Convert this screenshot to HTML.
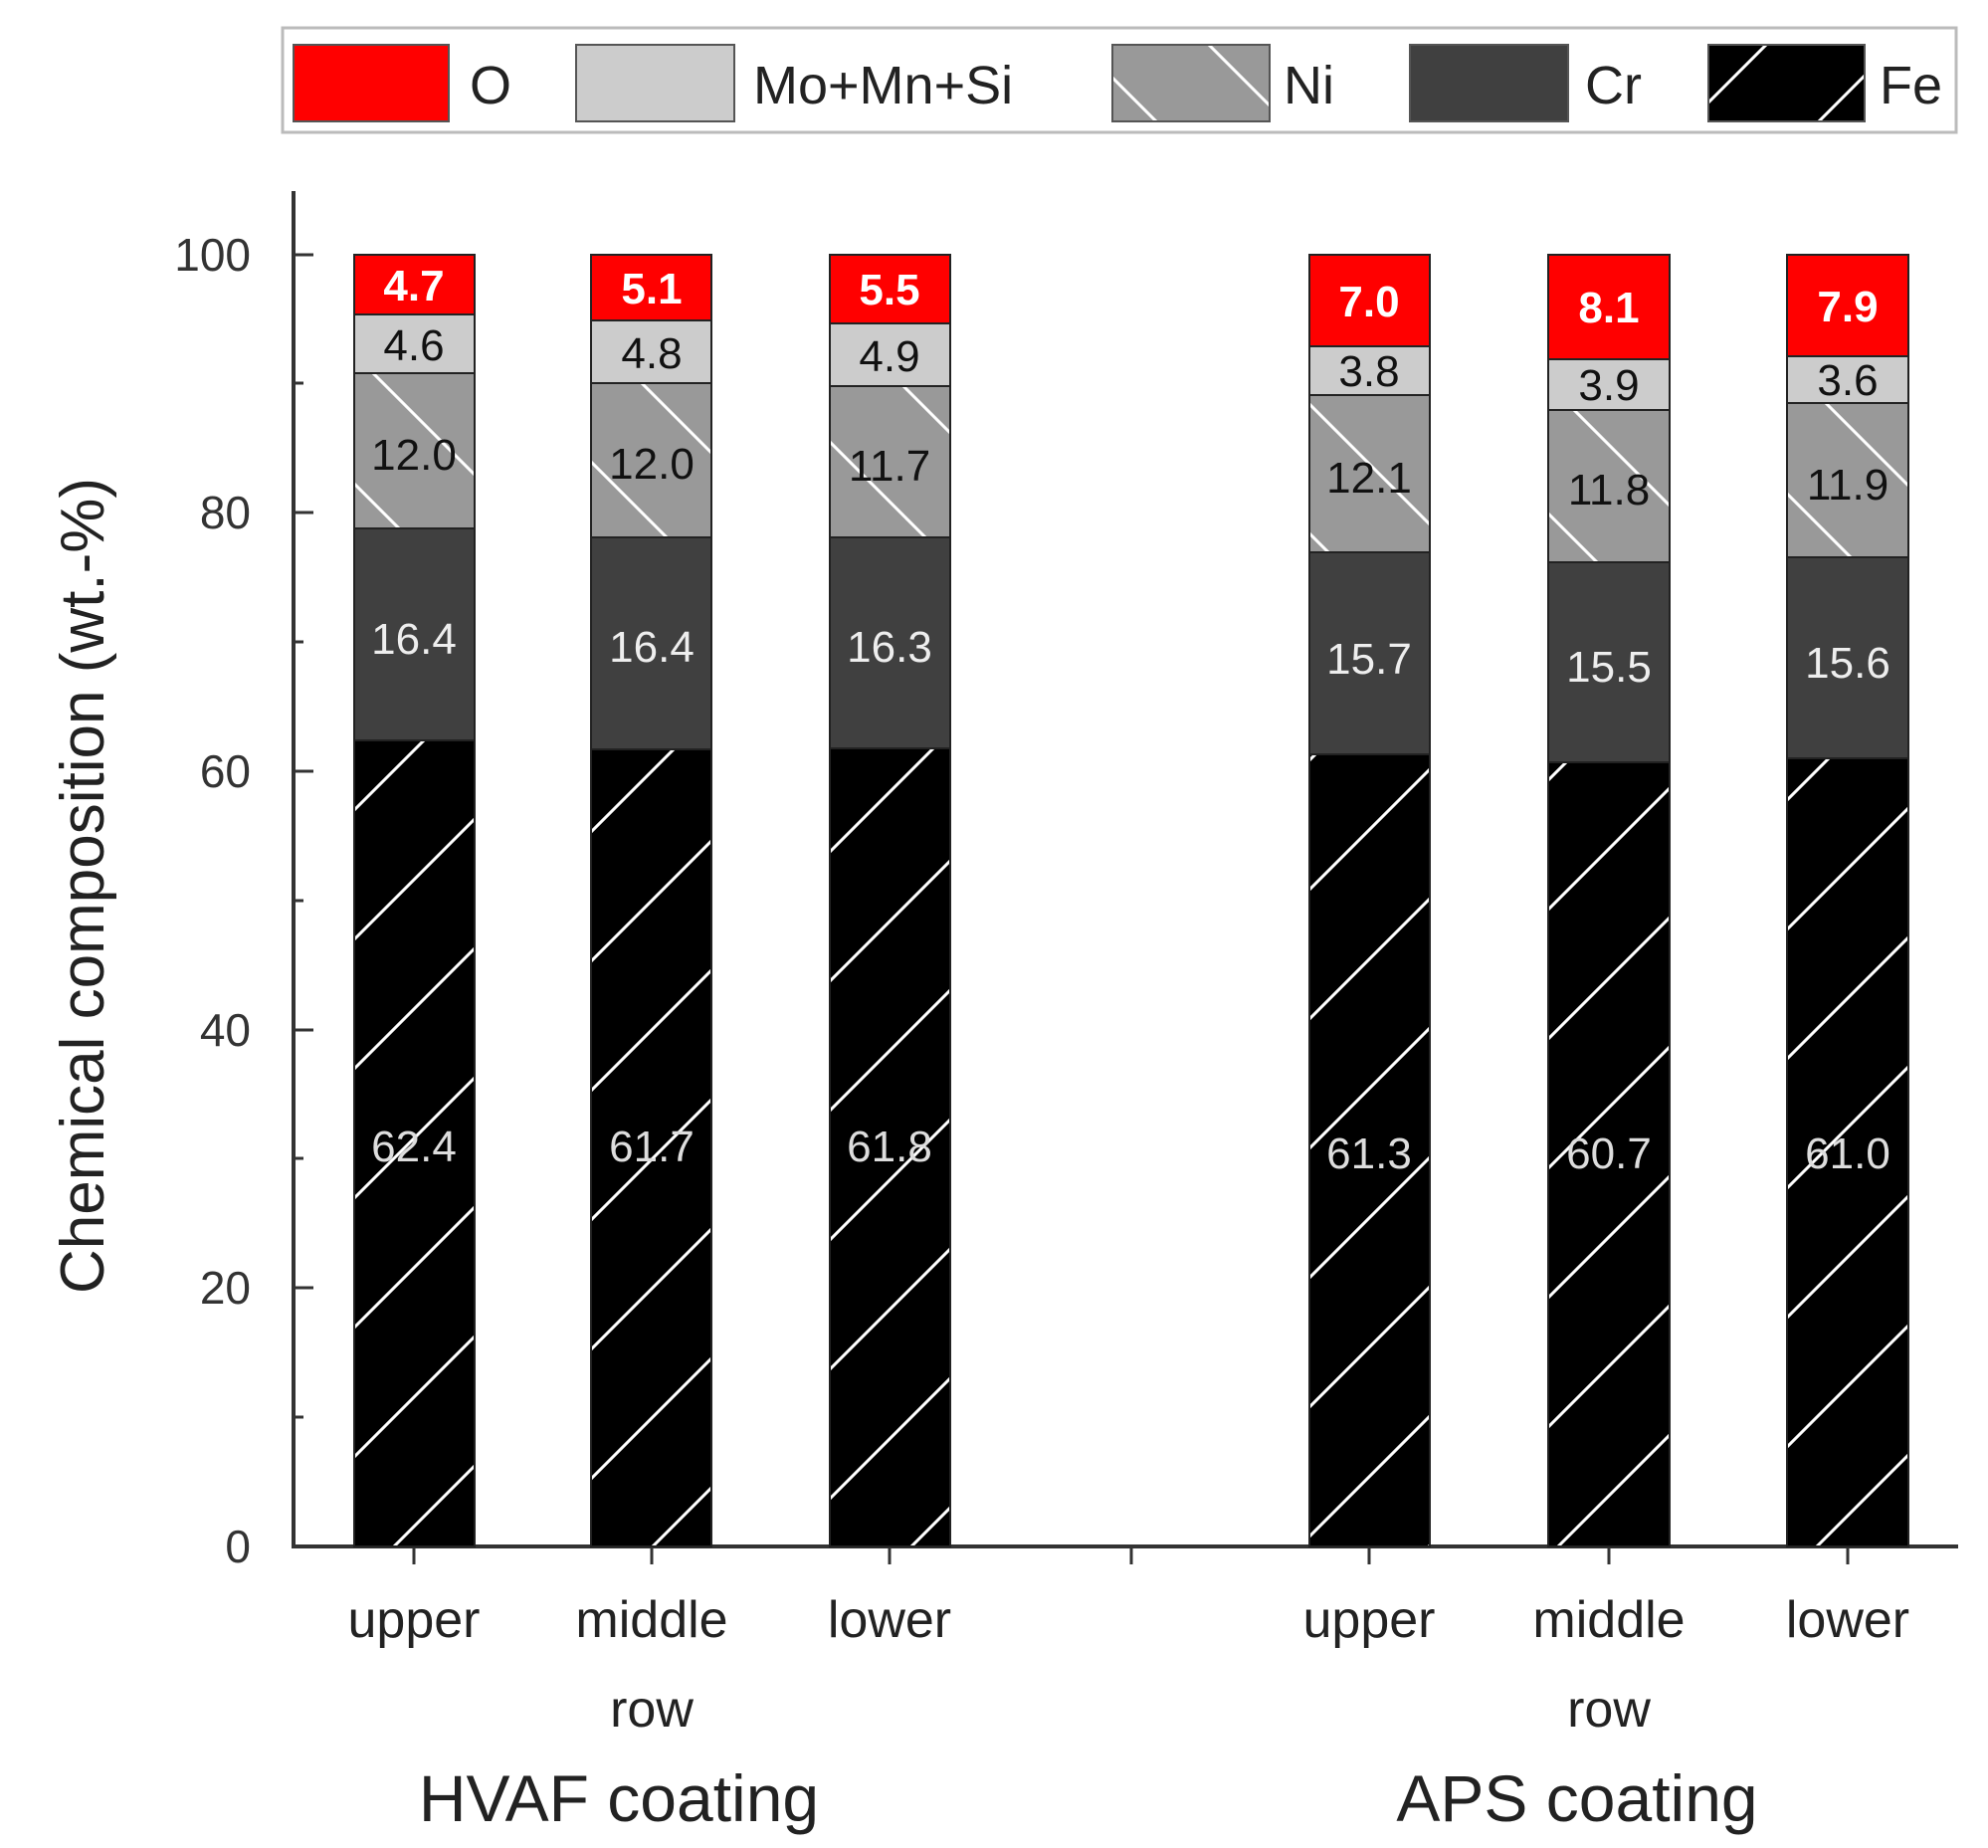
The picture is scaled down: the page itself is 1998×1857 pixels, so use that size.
<!DOCTYPE html>
<html><head><meta charset="utf-8"><style>
html,body{margin:0;padding:0;background:#fff;}
svg{display:block;font-family:"Liberation Sans","DejaVu Sans",sans-serif;}
</style></head><body>
<svg width="1998" height="1857" viewBox="0 0 1998 1857" xmlns="http://www.w3.org/2000/svg">
<defs>
<pattern id="fe" patternUnits="userSpaceOnUse" width="130" height="130" x="0" y="0">
<rect width="130" height="130" fill="#000"/>
<line x1="0" y1="130" x2="130" y2="0" stroke="#fff" stroke-width="3"/>
<line x1="-10" y1="10" x2="10" y2="-10" stroke="#fff" stroke-width="3"/>
<line x1="120" y1="140" x2="140" y2="120" stroke="#fff" stroke-width="3"/>
</pattern>
<pattern id="ni" patternUnits="userSpaceOnUse" width="130" height="130" x="0" y="0">
<rect width="130" height="130" fill="#999"/>
<line x1="0" y1="0" x2="130" y2="130" stroke="#fff" stroke-width="3"/>
<line x1="-10" y1="120" x2="10" y2="140" stroke="#fff" stroke-width="3"/>
<line x1="120" y1="-10" x2="140" y2="10" stroke="#fff" stroke-width="3"/>
</pattern>
</defs>

<!-- Legend -->
<rect x="284" y="28" width="1682" height="105" fill="#fff" stroke="#bbb" stroke-width="3"/>
<g stroke="#555" stroke-width="2">
<rect x="295" y="45" width="156" height="77" fill="#f00"/>
<rect x="579" y="45" width="159" height="77" fill="#ccc"/>
<rect x="1118" y="45" width="158" height="77" fill="url(#ni)"/>
<rect x="1417" y="45" width="159" height="77" fill="#404040"/>
<rect x="1717" y="45" width="157" height="77" fill="url(#fe)"/>
</g>
<g font-size="54" fill="#222">
<text x="472" y="104">O</text>
<text x="757" y="104">Mo+Mn+Si</text>
<text x="1290" y="104">Ni</text>
<text x="1593" y="104">Cr</text>
<text x="1889" y="104">Fe</text>
</g>

<!-- Axes -->
<line x1="295" y1="192" x2="295" y2="1556" stroke="#333" stroke-width="4"/>
<line x1="293" y1="1554" x2="1968" y2="1554" stroke="#333" stroke-width="4"/>
<g stroke="#333" stroke-width="3">
<line x1="295" y1="1554" x2="315" y2="1554"/>
<line x1="295" y1="1294" x2="315" y2="1294"/>
<line x1="295" y1="1035" x2="315" y2="1035"/>
<line x1="295" y1="775" x2="315" y2="775"/>
<line x1="295" y1="515" x2="315" y2="515"/>
<line x1="295" y1="256" x2="315" y2="256"/>
<line x1="295" y1="1424" x2="305" y2="1424"/>
<line x1="295" y1="1164" x2="305" y2="1164"/>
<line x1="295" y1="905" x2="305" y2="905"/>
<line x1="295" y1="645" x2="305" y2="645"/>
<line x1="295" y1="385" x2="305" y2="385"/>
<line x1="416" y1="1554" x2="416" y2="1572"/>
<line x1="655" y1="1554" x2="655" y2="1572"/>
<line x1="894" y1="1554" x2="894" y2="1572"/>
<line x1="1137" y1="1554" x2="1137" y2="1572"/>
<line x1="1376" y1="1554" x2="1376" y2="1572"/>
<line x1="1617" y1="1554" x2="1617" y2="1572"/>
<line x1="1857" y1="1554" x2="1857" y2="1572"/>
</g>
<g font-size="46" fill="#333" text-anchor="end">
<text x="252" y="1570">0</text>
<text x="252" y="1310">20</text>
<text x="252" y="1051">40</text>
<text x="252" y="791">60</text>
<text x="252" y="531">80</text>
<text x="252" y="272">100</text>
</g>
<text transform="translate(104,890) rotate(-90)" font-size="62" fill="#222" text-anchor="middle">Chemical composition (wt.-%)</text>

<!-- Bars -->
<g stroke="#222" stroke-width="2">
<!-- HVAF upper -->
<rect x="356" y="744" width="121" height="810" fill="url(#fe)"/>
<rect x="356" y="531" width="121" height="213" fill="#404040"/>
<rect x="356" y="375" width="121" height="156" fill="url(#ni)"/>
<rect x="356" y="316" width="121" height="59" fill="#ccc"/>
<rect x="356" y="256" width="121" height="60" fill="#f00"/>
<!-- HVAF middle -->
<rect x="594" y="753" width="121" height="801" fill="url(#fe)"/>
<rect x="594" y="540" width="121" height="213" fill="#404040"/>
<rect x="594" y="385" width="121" height="155" fill="url(#ni)"/>
<rect x="594" y="322" width="121" height="63" fill="#ccc"/>
<rect x="594" y="256" width="121" height="66" fill="#f00"/>
<!-- HVAF lower -->
<rect x="834" y="752" width="121" height="802" fill="url(#fe)"/>
<rect x="834" y="540" width="121" height="212" fill="#404040"/>
<rect x="834" y="388" width="121" height="152" fill="url(#ni)"/>
<rect x="834" y="325" width="121" height="63" fill="#ccc"/>
<rect x="834" y="256" width="121" height="69" fill="#f00"/>
<!-- APS upper -->
<rect x="1316" y="758" width="121" height="796" fill="url(#fe)"/>
<rect x="1316" y="555" width="121" height="203" fill="#404040"/>
<rect x="1316" y="397" width="121" height="158" fill="url(#ni)"/>
<rect x="1316" y="348" width="121" height="49" fill="#ccc"/>
<rect x="1316" y="256" width="121" height="92" fill="#f00"/>
<!-- APS middle -->
<rect x="1556" y="766" width="122" height="788" fill="url(#fe)"/>
<rect x="1556" y="565" width="122" height="201" fill="#404040"/>
<rect x="1556" y="412" width="122" height="153" fill="url(#ni)"/>
<rect x="1556" y="361" width="122" height="51" fill="#ccc"/>
<rect x="1556" y="256" width="122" height="105" fill="#f00"/>
<!-- APS lower -->
<rect x="1796" y="762" width="122" height="792" fill="url(#fe)"/>
<rect x="1796" y="560" width="122" height="202" fill="#404040"/>
<rect x="1796" y="405" width="122" height="155" fill="url(#ni)"/>
<rect x="1796" y="358" width="122" height="47" fill="#ccc"/>
<rect x="1796" y="256" width="122" height="102" fill="#f00"/>
</g>

<!-- Segment labels -->
<g font-size="44" text-anchor="middle">
<g fill="#ddd">
<text x="416" y="1167">62.4</text><text x="655" y="1167">61.7</text><text x="894" y="1167">61.8</text>
<text x="1376" y="1174">61.3</text><text x="1617" y="1174">60.7</text><text x="1857" y="1174">61.0</text>
</g>
<g fill="#eee">
<text x="416" y="657">16.4</text><text x="655" y="665">16.4</text><text x="894" y="665">16.3</text>
<text x="1376" y="677">15.7</text><text x="1617" y="685">15.5</text><text x="1857" y="681">15.6</text>
</g>
<g fill="#111">
<text x="416" y="472">12.0</text><text x="655" y="481">12.0</text><text x="894" y="483">11.7</text>
<text x="1376" y="495">12.1</text><text x="1617" y="507">11.8</text><text x="1857" y="502">11.9</text>
<text x="416" y="362">4.6</text><text x="655" y="370">4.8</text><text x="894" y="373">4.9</text>
<text x="1376" y="388">3.8</text><text x="1617" y="402">3.9</text><text x="1857" y="397">3.6</text>
</g>
<g fill="#fff" font-weight="bold">
<text x="416" y="302">4.7</text><text x="655" y="305">5.1</text><text x="894" y="306">5.5</text>
<text x="1376" y="318">7.0</text><text x="1617" y="324">8.1</text><text x="1857" y="323">7.9</text>
</g>
</g>

<!-- Category labels -->
<g font-size="52" fill="#222" text-anchor="middle">
<text x="416" y="1645">upper</text><text x="655" y="1645">middle</text><text x="894" y="1645">lower</text>
<text x="1376" y="1645">upper</text><text x="1617" y="1645">middle</text><text x="1857" y="1645">lower</text>
<text x="655" y="1735">row</text><text x="1617" y="1735">row</text>
</g>
<g font-size="66" fill="#222" text-anchor="middle">
<text x="622" y="1830">HVAF coating</text>
<text x="1585" y="1830">APS coating</text>
</g>
</svg>
</body></html>
